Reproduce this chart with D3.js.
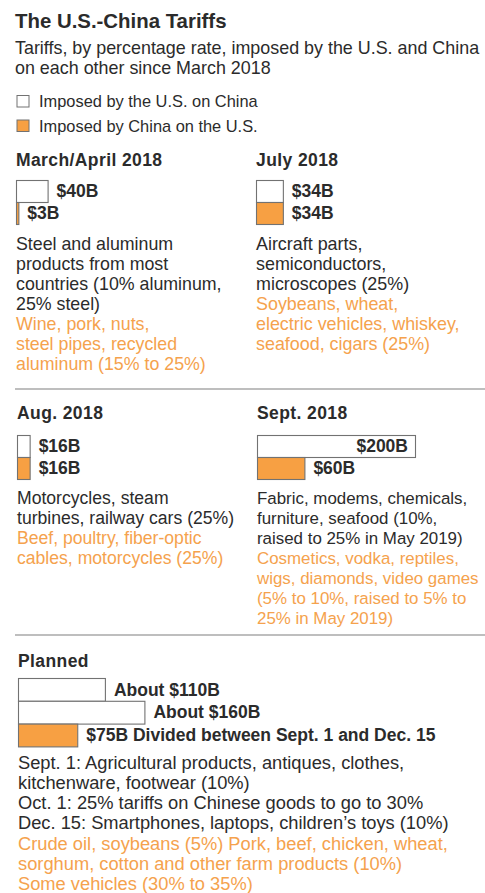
<!DOCTYPE html>
<html>
<head>
<meta charset="utf-8">
<script src="https://cdn.jsdelivr.net/npm/d3@7"></script>
<style>
    body { margin: 0; background: #fff; }
    text { font-family: "Liberation Sans", Arial, Helvetica, sans-serif; fill: #2b2b2b; }
    .title { font-weight: 700; font-size: 20.4px; }
    .subtitle { font-size: 17.9px; }
    .legend { font-size: 16.4px; }
    .heading { font-weight: 700; font-size: 17.5px; letter-spacing: 0.4px; }
    .barLabel { font-weight: 700; font-size: 17.5px; }
    .china { fill: #f5a24d; }
</style>
</head>
<body>
<script>
var titleText = "The U.S.-China Tariffs";
var subtitleLines = ["Tariffs, by percentage rate, imposed by the U.S. and China",
    "on each other since March 2018"];
var legendLabels = ["Imposed by the U.S. on China", "Imposed by China on the U.S."];

var periods = ["March/April 2018", "July 2018", "Aug. 2018", "Sept. 2018", "Planned"];
var usValues = [[40], [34], [16], [200], [110, 160]];
var usLabels = [["$40B"], ["$34B"], ["$16B"], ["$200B"], ["About $110B", "About $160B"]];
var chinaValues = [3, 34, 16, 60, 75];
var chinaLabels = ["$3B", "$34B", "$16B", "$60B", "$75B Divided between Sept. 1 and Dec. 15"];

var usNotes = [
    ["Steel and aluminum", "products from most", "countries (10% aluminum,", "25% steel)"],
    ["Aircraft parts,", "semiconductors,", "microscopes (25%)"],
    ["Motorcycles, steam", "turbines, railway cars (25%)"],
    ["Fabric, modems, chemicals,", "furniture, seafood (10%,", "raised to 25% in May 2019)"],
    ["Sept. 1: Agricultural products, antiques, clothes,", "kitchenware, footwear (10%)",
        "Oct. 1: 25% tariffs on Chinese goods to go to 30%",
        "Dec. 15: Smartphones, laptops, children\u2019s toys (10%)"]
];
var chinaNotes = [
    ["Wine, pork, nuts,", "steel pipes, recycled", "aluminum (15% to 25%)"],
    ["Soybeans, wheat,", "electric vehicles, whiskey,", "seafood, cigars (25%)"],
    ["Beef, poultry, fiber-optic", "cables, motorcycles (25%)"],
    ["Cosmetics, vodka, reptiles,", "wigs, diamonds, video games", "(5% to 10%, raised to 5% to", "25% in May 2019)"],
    ["Crude oil, soybeans (5%) Pork, beef, chicken, wheat,", "sorghum, cotton and other farm products (10%)",
        "Some vehicles (30% to 35%)"]
];

var W = 485, H = 893;
var orange = "#f7a043", stroke = "#727272";

// where each panel sits on the page (fs = note font size)
var layout = [
    {x: 16, head: 165.5, bars: 180, row: 22, notes: 249.5, lh: 20, fs: 17.8},
    {x: 256, head: 165.5, bars: 180, row: 22, notes: 249.5, lh: 20, fs: 17.9},
    {x: 17, head: 419, bars: 435, row: 22, notes: 503.5, lh: 20, fs: 17.6},
    {x: 257, head: 419, bars: 435, row: 22, notes: 503.5, lh: 20, fs: 16.9},
    {x: 18, head: 666.5, bars: 678, row: 22.8, notes: 768.5, lh: 20.3, fs: 18.3}
];

var svg = d3.select("body").append("svg")
    .attr("width", W)
    .attr("height", H);

svg.append("text").attr("class", "title")
    .attr("x", 15).attr("y", 27.5)
    .text(titleText);

svg.selectAll(".subtitle")
    .data(subtitleLines)
    .enter().append("text")
    .attr("class", "subtitle")
    .attr("x", 15)
    .attr("y", function(d, i) { return 54 + i * 20; })
    .text(function(d) { return d; });

// legend
var legend = svg.selectAll(".legendItem")
    .data(legendLabels)
    .enter().append("g")
    .attr("class", "legendItem")
    .attr("transform", function(d, i) { return "translate(17," + (95.5 + i * 24.5) + ")"; });
legend.append("rect")
    .attr("width", 12).attr("height", 11.5)
    .attr("fill", function(d, i) { return i ? orange : "#fff"; })
    .attr("stroke", stroke);
legend.append("text")
    .attr("class", "legend")
    .attr("x", 22).attr("y", 11.5)
    .text(function(d) { return d; });

// separators
[389, 635].forEach(function(y) {
    svg.append("line")
        .attr("x1", 15).attr("x2", W)
        .attr("y1", y).attr("y2", y)
        .attr("stroke", "#a9a9a9")
        .attr("stroke-width", 1.6);
});

var scaleX = d3.scaleLinear().domain([0, 200]).range([0, 158]);

periods.forEach(function(name, p) {
    var L = layout[p];
    var g = svg.append("g");

    g.append("text").attr("class", "heading")
        .attr("x", L.x).attr("y", L.head)
        .text(name);

    var rows = usValues[p].map(function(v, i) {
        return {value: v, label: usLabels[p][i], china: false};
    });
    rows.push({value: chinaValues[p], label: chinaLabels[p], china: true});

    var scaleY = d3.scaleBand()
        .domain(d3.range(rows.length))
        .range([L.bars, L.bars + L.row * rows.length]);

    g.selectAll("rect")
        .data(rows)
        .enter().append("rect")
        .attr("x", L.x + 0.5)
        .attr("y", function(d, i) { return scaleY(i) + 0.5; })
        .attr("width", function(d) { return scaleX(d.value); })
        .attr("height", scaleY.bandwidth())
        .attr("fill", function(d) { return d.china ? orange : "#fff"; })
        .attr("stroke", stroke)
        .attr("stroke-width", 1.1);

    // long bars carry their label inside, on the right
    g.selectAll(".barLabel")
        .data(rows)
        .enter().append("text")
        .attr("class", "barLabel")
        .attr("x", function(d) {
            var w = scaleX(d.value);
            return w > 140 ? L.x + w - 7 : L.x + w + 9;
        })
        .attr("text-anchor", function(d) { return scaleX(d.value) > 140 ? "end" : "start"; })
        .attr("y", function(d, i) { return scaleY(i) + scaleY.bandwidth() / 2 + 6.2; })
        .text(function(d) { return d.label; });

    var lines = usNotes[p].map(function(t) { return {t: t, china: false}; })
        .concat(chinaNotes[p].map(function(t) { return {t: t, china: true}; }));

    g.selectAll(".note")
        .data(lines)
        .enter().append("text")
        .attr("class", function(d) { return d.china ? "note china" : "note"; })
        .attr("x", L.x)
        .attr("y", function(d, i) { return L.notes + i * L.lh; })
        .style("font-size", L.fs + "px")
        .text(function(d) { return d.t; });
});
</script>
</body>
</html>
